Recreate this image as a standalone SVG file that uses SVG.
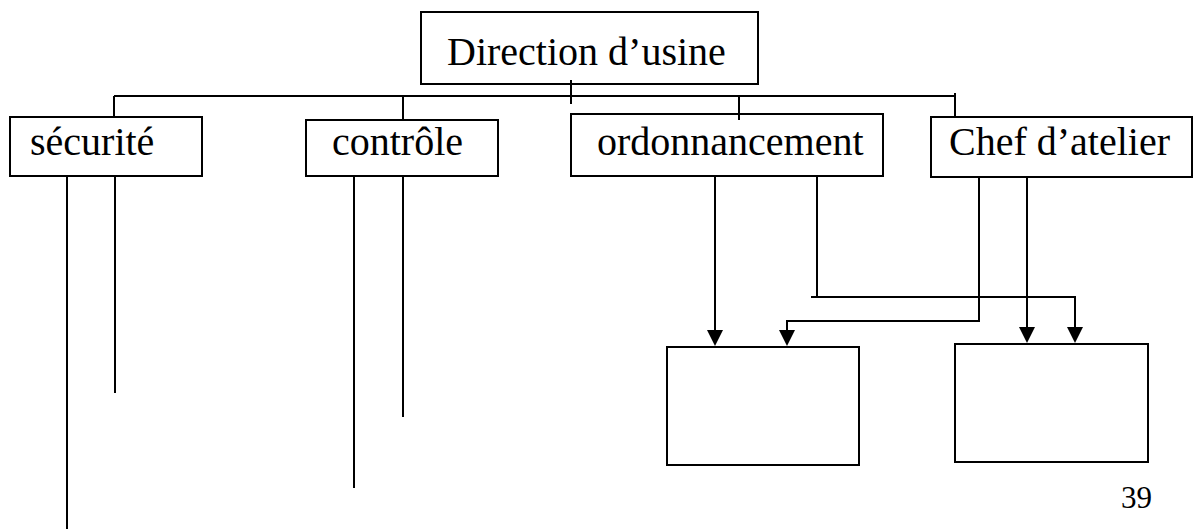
<svg xmlns="http://www.w3.org/2000/svg" width="1194" height="529" viewBox="0 0 1194 529">
<style>
.box{fill:#fff;stroke:#000;stroke-width:2}
.ln{fill:none;stroke:#000;stroke-width:2}
.ah{fill:#000;stroke:none}
.t{font-family:"Liberation Serif","Times New Roman",serif;font-size:40px;fill:#000}
.pg{font-family:"Liberation Serif","Times New Roman",serif;font-size:31px;fill:#000}
</style>
<defs>
<path id="head" d="M-8,-16 L8,-16 L0,0 Z"/>
</defs>
<rect width="1194" height="529" fill="#fff"/>
<g id="direction"><rect class="box" x="421" y="12" width="337" height="72"/><text class="t" x="447" y="65">Direction d’usine</text></g>
<g id="securite"><rect class="box" x="10" y="117" width="192" height="59"/><text class="t" x="30" y="155">sécurité</text></g>
<g id="controle"><rect class="box" x="306" y="120" width="192" height="56"/><text class="t" x="332" y="155">contrôle</text></g>
<g id="ordonnancement"><rect class="box" x="571" y="114" width="312" height="62"/><text class="t" x="597" y="155">ordonnancement</text></g>
<g id="chef"><rect class="box" x="931" y="117" width="261" height="60"/><text class="t" x="949" y="155">Chef d’atelier</text></g>
<g id="box1"><rect class="box" x="667" y="347" width="192" height="118"/></g>
<g id="box2"><rect class="box" x="955" y="344" width="193" height="118"/></g>
<g id="connectors">
<path class="ln" d="M114,96 H955"/>
<path class="ln" d="M114,96 V117"/>
<path class="ln" d="M403,96 V120"/>
<path class="ln" d="M571,80 V104"/>
<path class="ln" d="M739,96 V120"/>
<path class="ln" d="M955,93 V117"/>
<path class="ln" d="M67,176 V529"/>
<path class="ln" d="M115,176 V393"/>
<path class="ln" d="M354,176 V488"/>
<path class="ln" d="M403,176 V417"/>
<path class="ln" d="M715,176 V334"/>
<use href="#head" class="ah" x="715" y="346"/>
<path class="ln" d="M817,176 V297"/>
<path class="ln" d="M811,297 H1075 V331"/>
<use href="#head" class="ah" x="1075" y="343"/>
<path class="ln" d="M979,176 V321 H787 V334"/>
<use href="#head" class="ah" x="787" y="346"/>
<path class="ln" d="M1027,176 V331"/>
<use href="#head" class="ah" x="1027" y="343"/>
</g>
<text class="pg" x="1121" y="508">39</text>
</svg>
